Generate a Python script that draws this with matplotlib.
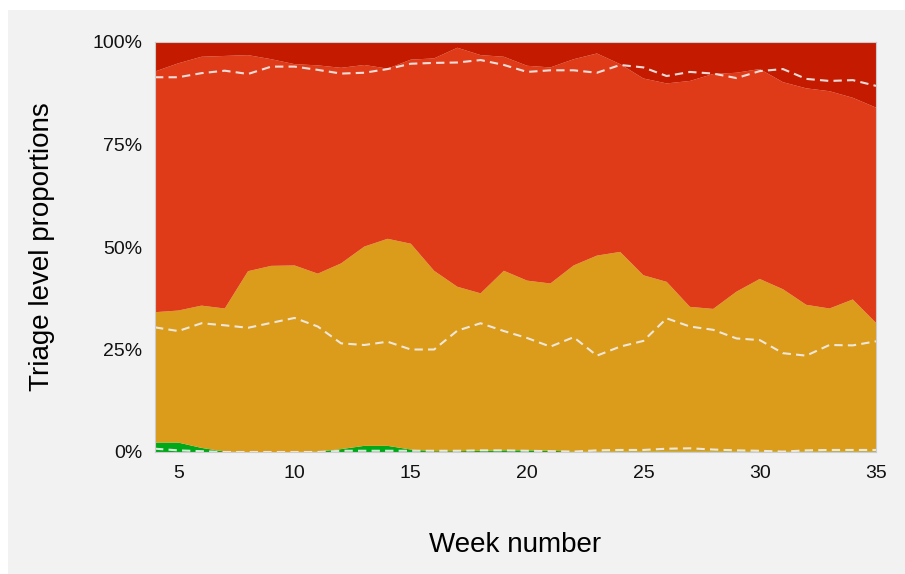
import matplotlib
matplotlib.use("Agg")
import matplotlib.pyplot as plt
from matplotlib.patches import Rectangle
from matplotlib.ticker import FuncFormatter

plt.rcParams['font.family'] = ['Liberation Sans', 'DejaVu Sans']

weeks = list(range(4, 36))

# share of each triage level per week (percent)
level_green = [2.3, 2.3, 1.0, 0.1, 0.0, 0.0, 0.0, 0.1, 0.7, 1.5, 1.5, 0.6, 0.2, 0.2, 0.3, 0.4,
               0.4, 0.3, 0.1, 0.1, 0.1, 0.1, 0.1, 0.1, 0.1, 0.1, 0.1, 0.1, 0.1, 0.1, 0.1, 0.1]
level_yellow = [31.8, 32.2, 34.7, 34.9, 44.1, 45.4, 45.5, 43.4, 45.3, 48.6, 50.5, 50.2, 44.0, 40.1, 38.4, 43.8,
                41.4, 40.8, 45.4, 47.8, 48.7, 43.0, 41.4, 35.3, 34.8, 39.0, 42.1, 39.6, 35.8, 34.9, 37.1, 31.4]
level_red = [58.7, 60.3, 60.7, 61.6, 52.7, 50.4, 49.1, 50.8, 47.7, 44.3, 41.5, 44.9, 51.8, 58.3, 58.1, 52.2,
             52.4, 52.7, 50.3, 49.3, 45.8, 48.0, 48.4, 55.1, 57.3, 53.4, 51.2, 50.5, 52.8, 53.0, 49.2, 52.5]
level_darkred = [7.2, 5.2, 3.6, 3.4, 3.2, 4.2, 5.4, 5.7, 6.3, 5.6, 6.5, 4.3, 4.0, 1.4, 3.2, 3.6,
                 5.8, 6.2, 4.2, 2.8, 5.4, 8.9, 10.1, 9.5, 7.8, 7.5, 6.6, 9.8, 11.3, 12.0, 13.6, 16.0]

# reference (dashed) cumulative boundaries
ref_low = [0.8, 0.4, 0.2, 0.0, 0.0, 0.0, 0.0, 0.0, 0.3, 0.3, 0.3, 0.3, 0.3, 0.3, 0.4, 0.4,
           0.3, 0.2, 0.1, 0.4, 0.5, 0.5, 0.8, 0.9, 0.6, 0.4, 0.3, 0.1, 0.4, 0.5, 0.5, 0.5]
ref_mid = [30.4, 29.5, 31.4, 30.9, 30.3, 31.5, 32.7, 30.6, 26.5, 26.1, 26.9, 25.0, 25.0, 29.6, 31.4, 29.5,
           27.8, 25.7, 28.0, 23.5, 25.7, 27.1, 32.6, 30.6, 29.8, 27.7, 27.3, 24.1, 23.5, 26.1, 26.0, 27.0]
ref_high = [91.4, 91.4, 92.4, 93.0, 92.2, 94.0, 94.0, 93.2, 92.3, 92.5, 93.4, 94.7, 94.9, 95.0, 95.6, 94.4,
            92.7, 93.1, 93.1, 92.5, 94.4, 93.8, 91.7, 92.7, 92.3, 91.2, 92.9, 93.4, 91.0, 90.5, 90.7, 89.3]

colors = ['#00a81a', '#db9b1b', '#e03b18', '#c41a00']

fig = plt.figure(figsize=(9.05, 5.74), dpi=100, facecolor='white')
# grey panel behind the chart
fig.patches.append(Rectangle((8 / 905, 0), 1, 1 - 10 / 574, transform=fig.transFigure,
                             facecolor='#f2f2f2', edgecolor='none', zorder=-1))

ax = fig.add_axes([155 / 905, 1 - 452 / 574, (876 - 155) / 905, (452 - 42) / 574])
ax.stackplot(weeks, level_green, level_yellow, level_red, level_darkred,
             colors=colors, linewidth=0)

for ref in (ref_low, ref_mid, ref_high):
    ax.plot(weeks, ref, color='#f0f0f0', linestyle=(0, (4, 2.5)), linewidth=1.5, alpha=0.9)

ax.set_xlim(4, 35)
ax.set_ylim(0, 100)
ax.set_xticks([5, 10, 15, 20, 25, 30, 35])
ax.set_yticks([0, 25, 50, 75, 100])
ax.yaxis.set_major_formatter(FuncFormatter(lambda v, p: f"{v:.0f}%"))
ax.tick_params(length=0, labelsize=14, pad=9, colors='#111111')
ax.set_facecolor('#f2f2f2')
for side in ax.spines.values():
    side.set_color('#cccccc')
    side.set_linewidth(0.8)

ax.set_xlabel("Week number", fontsize=20, labelpad=36)
ax.set_ylabel("Triage level proportions", fontsize=20, labelpad=27)

fig.savefig("out.png", dpi=100, facecolor=fig.get_facecolor())
